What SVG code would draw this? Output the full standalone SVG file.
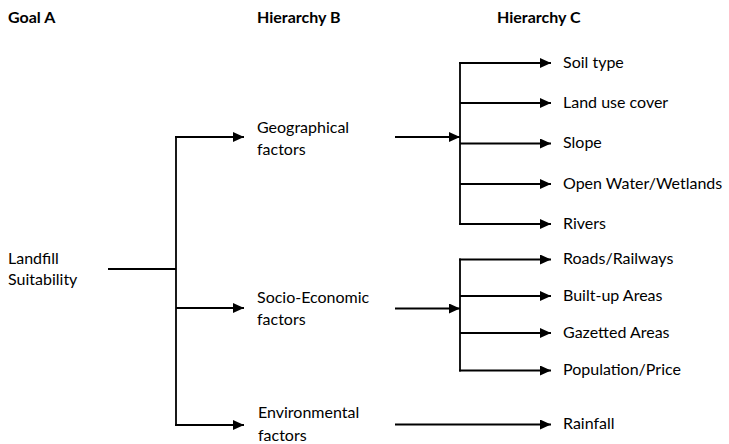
<svg xmlns="http://www.w3.org/2000/svg" width="729" height="444" viewBox="0 0 729 444">
<style>
text{font-family:Lato,"Open Sans","Liberation Sans",sans-serif;font-size:16px;fill:#000}
.h{font-weight:bold}
.c line{stroke:#000;stroke-width:1.8;fill:none}
.a{marker-end:url(#ah)}
</style>
<defs>
<marker id="ah" markerUnits="userSpaceOnUse" markerWidth="12" markerHeight="10" refX="11" refY="5" orient="auto">
<path d="M0,0 L11,5 L0,10 z" fill="#000"/>
</marker>
</defs>
<rect width="729" height="444" fill="#fff"/>
<g id="headers">
<text class="h" x="8" y="23">Goal A</text>
<text class="h" x="257" y="23">Hierarchy B</text>
<text class="h" x="497" y="23">Hierarchy C</text>
</g>
<g class="c" id="connectors">
<line x1="108" y1="269" x2="176" y2="269"/>
<line x1="176" y1="136.1" x2="176" y2="425.9"/>
<line class="a" x1="175.1" y1="137" x2="244" y2="137"/>
<line class="a" x1="176" y1="308" x2="244" y2="308"/>
<line class="a" x1="175.1" y1="425" x2="244" y2="425"/>
<line class="a" x1="395" y1="137" x2="460" y2="137"/>
<line x1="460" y1="62.1" x2="460" y2="224.9"/>
<line class="a" x1="459.1" y1="63" x2="551" y2="63"/>
<line class="a" x1="460" y1="103" x2="551" y2="103"/>
<line class="a" x1="460" y1="143.5" x2="551" y2="143.5"/>
<line class="a" x1="460" y1="184" x2="551" y2="184"/>
<line class="a" x1="459.1" y1="224" x2="551" y2="224"/>
<line class="a" x1="395" y1="308.5" x2="460" y2="308.5"/>
<line x1="460" y1="258.6" x2="460" y2="371.4"/>
<line class="a" x1="459.1" y1="259.5" x2="551" y2="259.5"/>
<line class="a" x1="460" y1="296" x2="551" y2="296"/>
<line class="a" x1="460" y1="333" x2="551" y2="333"/>
<line class="a" x1="459.1" y1="370.5" x2="551" y2="370.5"/>
<line class="a" x1="395" y1="424.5" x2="551" y2="424.5"/>
</g>
<g id="landfill"><text x="8" y="264">Landfill</text><text x="8" y="285">Suitability</text></g>
<g id="geographical"><text x="257" y="133">Geographical</text><text x="257" y="155">factors</text></g>
<g id="socio"><text x="257" y="303">Socio-Economic</text><text x="257" y="325">factors</text></g>
<g id="environmental"><text x="258" y="418">Environmental</text><text x="258" y="441">factors</text></g>
<g id="soil"><text x="563" y="67.5">Soil type</text></g>
<g id="landuse"><text x="563" y="107.5">Land use cover</text></g>
<g id="slope"><text x="563" y="148">Slope</text></g>
<g id="water"><text x="563" y="188.5">Open Water/Wetlands</text></g>
<g id="rivers"><text x="563" y="228.5">Rivers</text></g>
<g id="roads"><text x="563" y="264">Roads/Railways</text></g>
<g id="builtup"><text x="563" y="300.5">Built-up Areas</text></g>
<g id="gazetted"><text x="563" y="337.5">Gazetted Areas</text></g>
<g id="population"><text x="563" y="375">Population/Price</text></g>
<g id="rainfall"><text x="563" y="429">Rainfall</text></g>
</svg>
